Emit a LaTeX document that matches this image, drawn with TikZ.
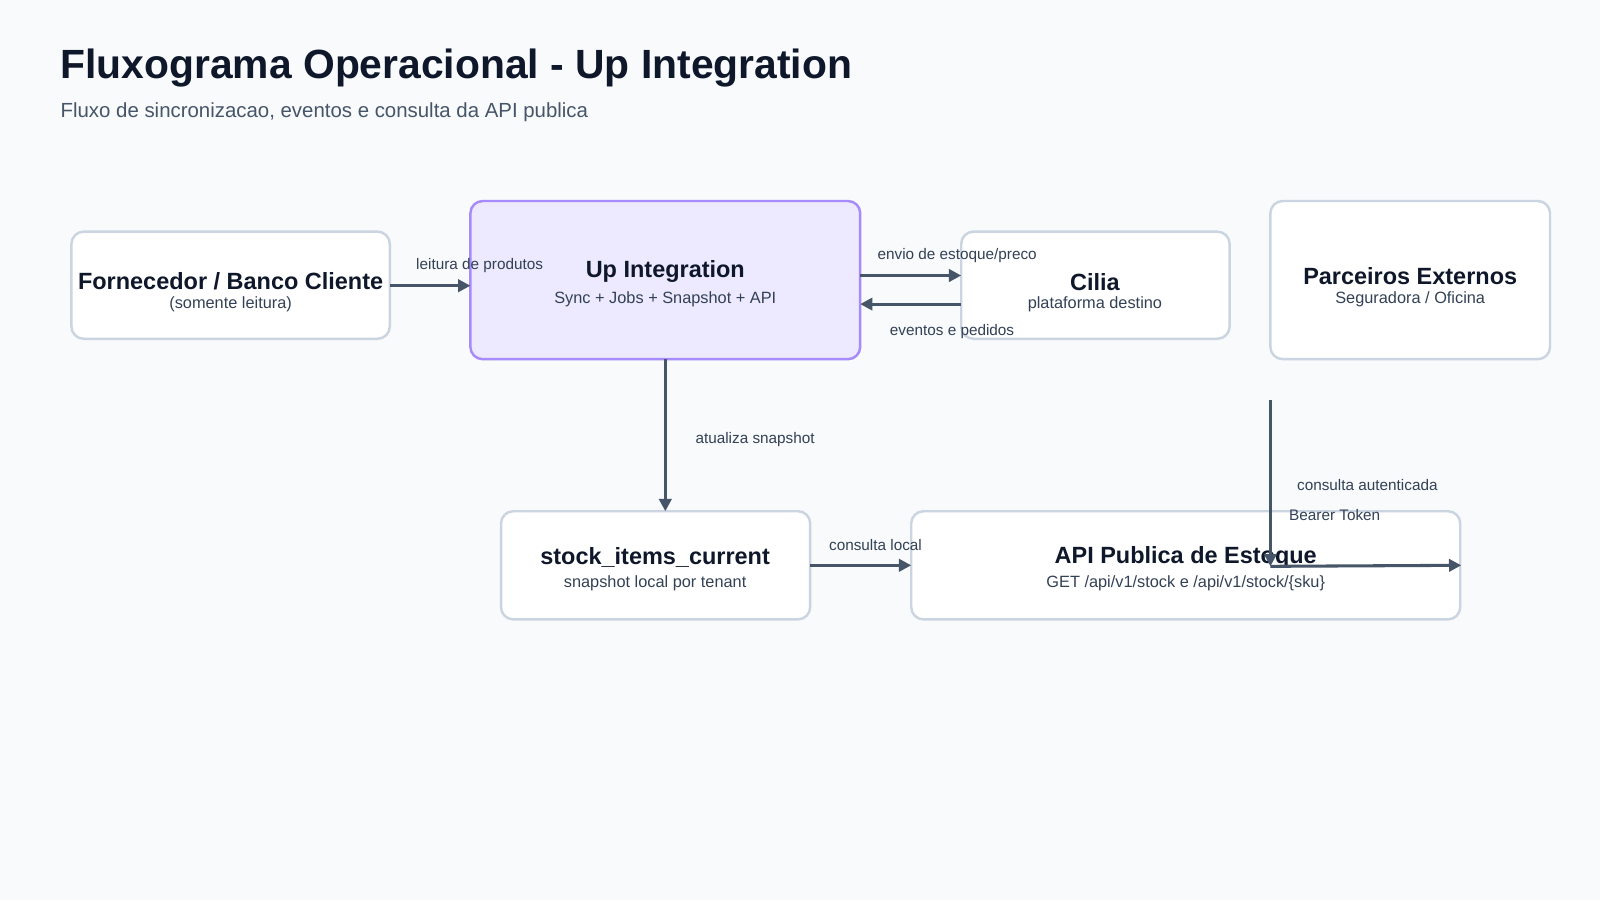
\documentclass[tikz,border=0pt]{standalone}
\usepackage{fontspec}
\setmainfont{Liberation Sans}
\usetikzlibrary{arrows.meta}
\definecolor{bg}{HTML}{F8FAFC}
\definecolor{bd}{HTML}{CBD5E1}
\definecolor{ink}{HTML}{0F172A}
\definecolor{sub}{HTML}{475569}
\definecolor{ar}{HTML}{475569}
\definecolor{upf}{HTML}{EDE9FE}
\definecolor{upb}{HTML}{A78BFA}
\definecolor{lbl}{HTML}{334155}
\tikzset{
 box/.style={draw=bd,line width=1.2pt,fill=white,rounded corners=6pt},
 conn/.style={draw=ar,line width=1.5pt,-{Triangle[length=6pt,width=6pt]}},
 lab/.style={font=\fontsize{7.5}{9}\selectfont,text=lbl,inner sep=0pt},
 ttl/.style={font=\fontsize{11.5}{13}\selectfont\bfseries,text=ink,inner sep=0pt},
 stl/.style={font=\fontsize{8}{9.5}\selectfont,text=lbl,inner sep=0pt},
}
\begin{document}
\begin{tikzpicture}[x=0.5pt,y=-0.5pt]
\fill[bg] (0,0) rectangle (1568,882);
\useasboundingbox (0,0) rectangle (1568,882);
\node[anchor=west,font=\fontsize{20}{24}\selectfont\bfseries,text=ink,inner sep=0pt] (title) at (59,67) {Fluxograma Operacional - Up Integration};
\node[anchor=west,font=\fontsize{10}{12}\selectfont,text=sub,inner sep=0pt] (subt) at (59,110) {Fluxo de sincronizacao, eventos e consulta da API publica};
% boxes
\draw[box] (70,227) rectangle (382,332); \node (forn) at (226,279.5) {};
\draw[box,fill=upf,draw=upb] (461,197) rectangle (843,352); \node (up) at (652,274.5) {};
\draw[box] (942,227) rectangle (1205,332); \node (cil) at (1073.5,279.5) {};
\draw[box] (1245,197) rectangle (1519,352); \node (par) at (1382,274.5) {};
\draw[box] (491,501) rectangle (794,607); \node (stk) at (642.5,554) {};
\draw[box] (893,501) rectangle (1431,607); \node (api) at (1162,554) {};
% texts
\node[ttl] (t1) at (226,276) {Fornecedor / Banco Cliente};
\node[stl] (s1) at (226,298) {(somente leitura)};
\node[ttl] (t2) at (652,266) {Up Integration};
\node[stl] (s2) at (652,293) {Sync + Jobs + Snapshot + API};
\node[ttl] (t3) at (1073,276) {Cilia};
\node[stl] (s3) at (1073,298) {plataforma destino};
\node[ttl] (t4) at (1382,271) {Parceiros Externos};
\node[stl] (s4) at (1382,293) {Seguradora / Oficina};
\node[ttl] (t5) at (642,546) {stock\_items\_current};
\node[stl] (s5) at (642,572) {snapshot local por tenant};
\node[ttl] (t6) at (1162,546) {API Publica de Estoque};
\node[stl] (s6) at (1162,572) {GET /api/v1/stock e /api/v1/stock/\{sku\}};
% connectors
\coordinate (a1) at (382,280); \coordinate (a2) at (461,280);
\draw[conn] (a1) -- (a2);
\coordinate (b1) at (843,270); \coordinate (b2) at (942,270);
\draw[conn] (b1) -- (b2);
\coordinate (c1) at (942,298); \coordinate (c2) at (843,298);
\draw[conn] (c1) -- (c2);
\coordinate (d1) at (652,352); \coordinate (d2) at (652,501);
\draw[conn] (d1) -- (d2);
\coordinate (e1) at (794,554); \coordinate (e2) at (893,554);
\draw[conn] (e1) -- (e2);
\coordinate (f1) at (1245,392); \coordinate (f2) at (1245,555); \coordinate (f3) at (1432,554);
\draw[conn] (f1) -- (f2);
\draw[conn] (f2) -- (f3);
% labels
\node[lab] (l1) at (470,260) {leitura de produtos};
\node[lab] (l2) at (938,250) {envio de estoque/preco};
\node[lab] (l3) at (933,325) {eventos e pedidos};
\node[lab] (l4) at (740,431) {atualiza snapshot};
\node[lab] (l5) at (858,534) {consulta local};
\node[lab] (l6) at (1340,475) {consulta autenticada};
\node[lab] (l7) at (1308,505) {Bearer Token};
\end{tikzpicture}
\end{document}
